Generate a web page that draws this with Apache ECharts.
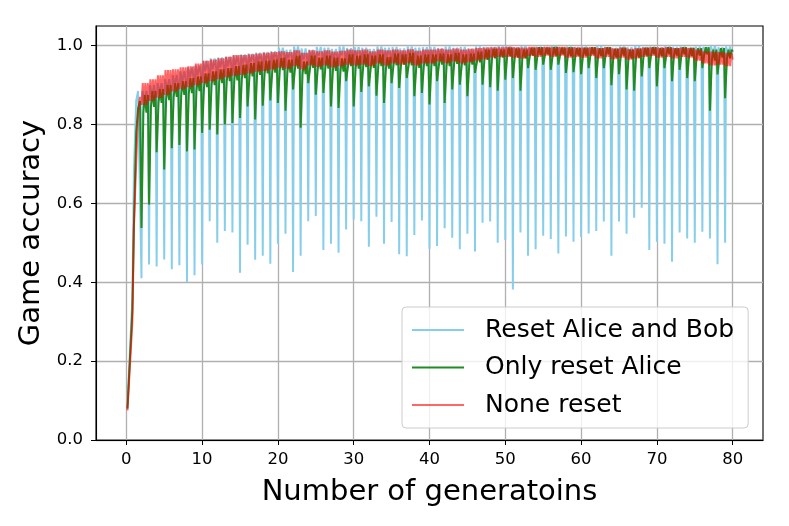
<!DOCTYPE html>
<html>
<head>
<meta charset="utf-8">
<title>Game accuracy</title>
<script src="https://cdn.jsdelivr.net/npm/echarts@6/dist/echarts.min.js"></script>
<style>
  html, body { margin: 0; padding: 0; background: #fff; }
  #main { width: 789px; height: 526px; }
</style>
</head>
<body>
<div id="main"></div>
<script>
// ticks
var xTicks = [0, 10, 20, 30, 40, 50, 60, 70, 80];
var yTicks = [0, 0.2, 0.4, 0.6, 0.8, 1.0];

var seriesNames = ['Reset Alice and Bob', 'Only reset Alice', 'None reset'];

// first generation climb (generation x, accuracy)
var startX     = [0.15, 0.8, 1.0, 1.3, 1.55, 1.8];
var blueStart  = [0.09, 0.36, 0.68, 0.86, 0.885, 0.89];
var greenStart = [0.08, 0.33, 0.54, 0.78, 0.84, 0.86];
var redStart   = [0.075, 0.30, 0.54, 0.70, 0.83, 0.87];

// per generation, generations 2 .. 79
var blueDip = [0.41, 0.445, 0.44, 0.458, 0.433, 0.443, 0.40, 0.418,
  0.445, 0.555, 0.50, 0.53, 0.526, 0.424, 0.495, 0.457, 0.467, 0.447,
  0.498, 0.523, 0.426, 0.467, 0.555, 0.568, 0.482, 0.498, 0.475, 0.534,
  0.559, 0.555, 0.49, 0.566, 0.498, 0.553, 0.471, 0.466, 0.52, 0.557,
  0.485, 0.492, 0.537, 0.513, 0.484, 0.523, 0.478, 0.551, 0.554, 0.50,
  0.507, 0.382, 0.526, 0.467, 0.484, 0.518, 0.51, 0.473, 0.516, 0.503,
  0.515, 0.524, 0.53, 0.554, 0.467, 0.554, 0.523, 0.564, 0.589, 0.482,
  0.503, 0.498, 0.452, 0.526, 0.511, 0.50, 0.528, 0.511, 0.446, 0.50];
var blueTop = [0.885, 0.90, 0.905, 0.915, 0.925, 0.935, 0.945, 0.95,
  0.962, 0.968, 0.97, 0.972, 0.975, 0.978, 0.98, 0.982, 0.984, 0.986,
  0.995, 0.99, 0.998, 0.993, 0.99, 0.997, 0.995, 0.992, 0.998, 0.994,
  0.997, 0.995, 0.992, 0.998, 0.995, 0.997, 0.993, 0.998, 0.995, 0.996,
  0.997, 0.994, 0.998, 0.995, 0.997, 0.993, 0.998, 0.996, 0.997, 0.999,
  0.998, 0.996, 0.999, 0.995, 0.998, 0.997, 0.999, 0.996, 0.998, 0.997,
  0.998, 0.996, 0.999, 0.997, 0.995, 0.998, 0.996, 0.999, 0.997, 0.998,
  0.996, 0.999, 0.997, 0.998, 0.995, 0.998, 0.997, 0.999, 0.996, 0.998];
var blueLow = [0.86, 0.87, 0.88, 0.89, 0.90, 0.91, 0.92, 0.925,
  0.935, 0.94, 0.945, 0.948, 0.95, 0.955, 0.958, 0.96, 0.962, 0.965,
  0.972, 0.968, 0.975, 0.965, 0.97, 0.975, 0.972, 0.968, 0.976, 0.972,
  0.975, 0.972, 0.97, 0.976, 0.973, 0.975, 0.97, 0.977, 0.973, 0.975,
  0.975, 0.972, 0.977, 0.974, 0.976, 0.972, 0.978, 0.975, 0.978, 0.98,
  0.98, 0.978, 0.982, 0.977, 0.98, 0.979, 0.982, 0.978, 0.98, 0.979,
  0.98, 0.978, 0.982, 0.979, 0.976, 0.98, 0.978, 0.982, 0.979, 0.98,
  0.978, 0.982, 0.979, 0.98, 0.976, 0.98, 0.979, 0.982, 0.977, 0.98];

var greenDip = [0.538, 0.597, 0.73, 0.686, 0.74, 0.748, 0.732, 0.737,
  0.779, 0.787, 0.775, 0.80, 0.804, 0.817, 0.846, 0.813, 0.848, 0.861,
  0.855, 0.835, 0.889, 0.792, 0.905, 0.876, 0.88, 0.846, 0.842, 0.91,
  0.846, 0.883, 0.897, 0.873, 0.855, 0.905, 0.893, 0.918, 0.872, 0.88,
  0.851, 0.91, 0.855, 0.889, 0.901, 0.872, 0.931, 0.901, 0.895, 0.886,
  0.914, 0.918, 0.886, 0.943, 0.939, 0.952, 0.939, 0.952, 0.931, 0.933,
  0.928, 0.943, 0.918, 0.943, 0.90, 0.928, 0.889, 0.886, 0.922, 0.943,
  0.897, 0.943, 0.91, 0.939, 0.918, 0.91, 0.943, 0.835, 0.927, 0.867];
var greenMid = [0.83, 0.845, 0.855, 0.862, 0.87, 0.875, 0.88, 0.885,
  0.895, 0.90, 0.905, 0.91, 0.912, 0.918, 0.922, 0.926, 0.93, 0.932,
  0.938, 0.932, 0.942, 0.928, 0.944, 0.94, 0.942, 0.936, 0.934, 0.948,
  0.942, 0.946, 0.944, 0.948, 0.942, 0.95, 0.952, 0.95, 0.944, 0.948,
  0.948, 0.952, 0.948, 0.954, 0.95, 0.952, 0.958, 0.964, 0.968, 0.97,
  0.974, 0.97, 0.968, 0.975, 0.976, 0.978, 0.975, 0.978, 0.974, 0.975,
  0.975, 0.978, 0.974, 0.978, 0.97, 0.975, 0.968, 0.97, 0.975, 0.978,
  0.974, 0.978, 0.975, 0.978, 0.974, 0.975, 0.978, 0.962, 0.97, 0.968];
var greenTop = [0.875, 0.885, 0.89, 0.90, 0.905, 0.91, 0.918, 0.922,
  0.93, 0.935, 0.94, 0.943, 0.948, 0.952, 0.956, 0.96, 0.962, 0.965,
  0.97, 0.965, 0.975, 0.96, 0.975, 0.97, 0.975, 0.97, 0.968, 0.978,
  0.975, 0.978, 0.975, 0.978, 0.972, 0.98, 0.978, 0.982, 0.975, 0.978,
  0.978, 0.98, 0.978, 0.982, 0.978, 0.98, 0.985, 0.99, 0.992, 0.99,
  0.995, 0.993, 0.99, 0.995, 0.996, 0.995, 0.997, 0.995, 0.996, 0.994,
  0.995, 0.996, 0.994, 0.996, 0.992, 0.995, 0.99, 0.992, 0.995, 0.996,
  0.994, 0.996, 0.994, 0.996, 0.995, 0.994, 0.996, 0.99, 0.994, 0.99];

var redLo = [0.85, 0.86, 0.868, 0.875, 0.884, 0.89, 0.895, 0.90,
  0.905, 0.91, 0.915, 0.92, 0.924, 0.926, 0.93, 0.934, 0.936, 0.94,
  0.944, 0.942, 0.948, 0.94, 0.95, 0.946, 0.95, 0.945, 0.948, 0.952,
  0.95, 0.952, 0.948, 0.955, 0.95, 0.955, 0.952, 0.956, 0.95, 0.955,
  0.955, 0.96, 0.956, 0.96, 0.955, 0.958, 0.962, 0.966, 0.97, 0.972,
  0.972, 0.97, 0.968, 0.974, 0.972, 0.975, 0.972, 0.975, 0.97, 0.972,
  0.97, 0.974, 0.968, 0.972, 0.966, 0.97, 0.965, 0.968, 0.972, 0.974,
  0.97, 0.972, 0.968, 0.972, 0.97, 0.962, 0.955, 0.95, 0.952, 0.948];
var redHi = [0.905, 0.915, 0.925, 0.938, 0.94, 0.945, 0.948, 0.955,
  0.962, 0.965, 0.968, 0.972, 0.976, 0.976, 0.978, 0.98, 0.982, 0.984,
  0.986, 0.984, 0.988, 0.982, 0.988, 0.986, 0.988, 0.985, 0.987, 0.99,
  0.988, 0.99, 0.986, 0.99, 0.988, 0.99, 0.988, 0.991, 0.987, 0.99,
  0.99, 0.992, 0.99, 0.993, 0.99, 0.992, 0.994, 0.995, 0.996, 0.996,
  0.997, 0.996, 0.995, 0.997, 0.996, 0.997, 0.996, 0.997, 0.995, 0.996,
  0.995, 0.996, 0.994, 0.996, 0.993, 0.995, 0.992, 0.994, 0.995, 0.996,
  0.995, 0.996, 0.994, 0.995, 0.994, 0.99, 0.986, 0.985, 0.984, 0.982];

// value at generation 80
var endValues = [0.99, 0.985, 0.965];

var firstGen = 2;

function startPoints(vals) {
    var pts = [];
    for (var i = 0; i < startX.length; i++) pts.push([startX[i], vals[i]]);
    return pts;
}

// each generation: reset dip at its start, then recovery
var blueData = startPoints(blueStart);
var greenData = startPoints(greenStart);
var redData = startPoints(redStart);
for (var i = 0; i < blueDip.length; i++) {
    var g = firstGen + i;
    blueData.push([g, blueDip[i]], [g + 0.12, blueTop[i]], [g + 0.4, blueLow[i]],
                  [g + 0.65, blueTop[i]], [g + 0.88, blueLow[i]]);
    greenData.push([g, greenDip[i]], [g + 0.25, greenMid[i]], [g + 0.45, greenTop[i]],
                   [g + 0.65, greenMid[i]], [g + 0.85, greenTop[i]]);
    redData.push([g, redLo[i]], [g + 0.17, redHi[i]], [g + 0.33, redLo[i]],
                 [g + 0.5, redHi[i]], [g + 0.67, redLo[i]], [g + 0.83, redHi[i]]);
}
blueData.push([80, endValues[0]]);
greenData.push([80, endValues[1]]);
redData.push([80, endValues[2]]);

var myChart = echarts.init(document.getElementById('main'), null, { renderer: 'canvas' });

var font = 'DejaVu Sans';
var option = {
    animation: false,
    backgroundColor: '#fff',
    textStyle: { fontFamily: font },
    grid: {
        left: 96, right: 26, top: 26, bottom: 86,
        show: true, borderColor: '#000', borderWidth: 1.1, backgroundColor: 'transparent'
    },
    legend: {
        data: seriesNames,
        orient: 'vertical',
        left: 402, top: 307,
        padding: [9, 14, 9, 10],
        icon: 'rect',
        itemWidth: 52, itemHeight: 2, itemGap: 9.5,
        backgroundColor: 'rgba(255,255,255,0.8)',
        borderColor: '#cccccc', borderWidth: 1, borderRadius: 4,
        textStyle: { fontSize: 25, color: '#000', fontFamily: font, lineHeight: 28, padding: [0, 0, 0, 16] }
    },
    xAxis: {
        type: 'value', min: -4, max: 84, splitNumber: 9,
        name: 'Number of generatoins', nameLocation: 'middle', nameGap: 38,
        nameTextStyle: { fontSize: 29, color: '#000', fontFamily: font },
        axisLine: { show: true, onZero: false, lineStyle: { color: '#000', width: 1.1 } },
        axisTick: { show: true, length: 5, lineStyle: { color: '#000' }, customValues: xTicks },
        axisLabel: { fontSize: 16.5, color: '#000', margin: 11, customValues: xTicks },
        splitLine: { show: true, lineStyle: { color: '#b0b0b0', width: 1.3 } }
    },
    yAxis: {
        type: 'value', min: 0, max: 1.05, interval: 0.2,
        name: 'Game accuracy', nameLocation: 'middle', nameGap: 46,
        nameTextStyle: { fontSize: 29, color: '#000', fontFamily: font },
        axisLine: { show: true, onZero: false, lineStyle: { color: '#000', width: 1.1 } },
        axisTick: { show: true, length: 5, lineStyle: { color: '#000' }, customValues: yTicks },
        axisLabel: {
            fontSize: 16.5, color: '#000', margin: 13, customValues: yTicks,
            formatter: function (v) { return v.toFixed(1); }
        },
        splitLine: { show: true, lineStyle: { color: '#b0b0b0', width: 1.3 } }
    },
    series: [{
        name: seriesNames[0], type: 'line', data: blueData,
        symbol: 'none', color: '#87ceeb',
        lineStyle: { width: 2, color: '#87ceeb' }
    }, {
        name: seriesNames[1], type: 'line', data: greenData,
        symbol: 'none', color: '#228b22',
        lineStyle: { width: 2, color: '#228b22' }
    }, {
        name: seriesNames[2], type: 'line', data: redData,
        symbol: 'none', color: 'rgba(255,0,0,0.6)',
        lineStyle: { width: 2, color: 'rgba(255,0,0,0.6)' }
    }]
};
myChart.setOption(option);
</script>
</body>
</html>
